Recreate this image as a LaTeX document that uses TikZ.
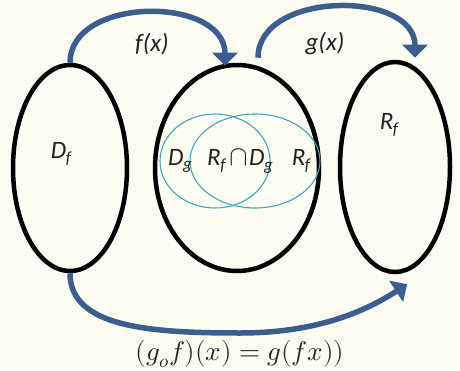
\documentclass[tikz,border=0pt]{standalone}
\usepackage{amsmath}
\usepackage{fontspec}
\usepackage{unicode-math}
\setmathfont{Latin Modern Math}
\usepackage{xcolor}
\usepackage{tikz}
\usetikzlibrary{calc,arrows.meta,positioning,shapes.geometric}
\newfontfamily\lblfont{Carlito}
\definecolor{bluex}{HTML}{3C5E8F}
\definecolor{cyanx}{HTML}{3FA6BC}
\definecolor{creambg}{HTML}{FCFCF2}
\definecolor{inkx}{HTML}{222222}
\newcommand{\sbs}[2]{#1\kern-0.5pt\raisebox{-0.35ex}{\fontsize{17}{17}\selectfont #2}}
\tikzset{
  ar/.style={-{Triangle[length=13pt,width=25pt]},line width=5.5pt,bluex},
  set/.style={draw=black,line width=4.5pt,ellipse,inner sep=0pt},
  venn/.style={draw=cyanx,line width=1.1pt,ellipse,inner sep=0pt},
  lbl/.style={font=\lblfont\itshape\fontsize{25}{28}\selectfont,text=inkx,inner sep=1pt}
}
\begin{document}
\begin{tikzpicture}[x=1pt,y=1pt]
\fill[creambg] (0,0) rectangle (460,370);
\useasboundingbox (0,0) rectangle (460,370);
% the three sets
\node[set,minimum width=114pt,minimum height=206pt] (Df) at (70,202) {};
\node[set,minimum width=164pt,minimum height=206pt] (Mid) at (237,202) {};
\node[set,minimum width=110pt,minimum height=210pt] (Rf) at (395,203) {};
% overlap inside the middle set
\node[venn,minimum width=110pt,minimum height=94pt] (Dg) at (215,209) {};
\node[venn,minimum width=130pt,minimum height=94pt] (Rin) at (255,209) {};
% labels
\node[lbl] (tDf) at (61,216) {\sbs{D}{f}};
\node[lbl] (tRf) at (389,245) {\sbs{R}{f}};
\node[lbl] (tDg) at (180,209) {\sbs{D}{g}};
\node[lbl] (tcap) at (240,209) {\sbs{R}{f}\kern4pt{\fontsize{28}{28}\selectfont$\cap$}\kern1pt\sbs{D}{g}};
\node[lbl] (tRf2) at (301,209) {\sbs{R}{f}};
\node[lbl] (tfx) at (152,326) {f(x)};
\node[lbl] (tgx) at (325,326) {g(x)};
\node[font=\fontsize{27}{32}\selectfont,text=inkx] (comp) at (240,16) {$(g_of)(x) = g(fx))$};
% mappings
\draw[ar] (Df.north) .. controls ($(Df.north)+(0,67)$) and ($(Mid.north)+(-12,67)$) .. ($(Mid.north)+(-12,-3)$);
\draw[ar] ($(Mid.north)+(21,5)$) .. controls ($(Mid.north)+(21,72)$) and ($(Rf.north)+(20,70)$) .. ($(Rf.north)+(20,2)$);
\draw[ar] (Df.south) .. controls ($(Df.south)+(0,-54)$) and (150,37) .. (240,37)
  .. controls (310,37) and (360,55) .. ($(Rf.south)+(12,-10)$);
\end{tikzpicture}
\end{document}
